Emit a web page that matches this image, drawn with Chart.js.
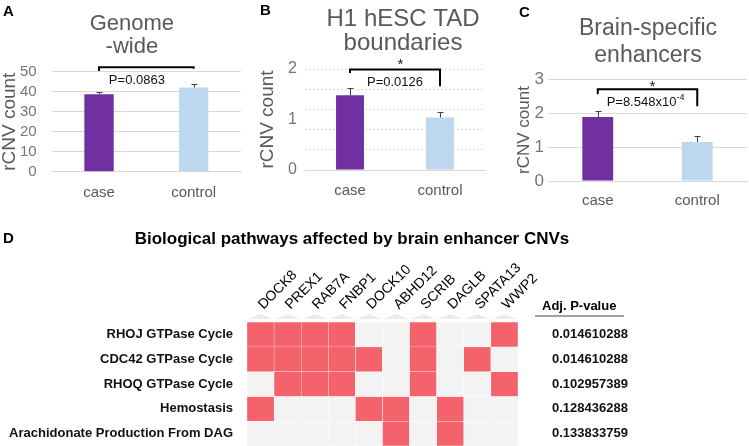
<!DOCTYPE html>
<html>
<head>
<meta charset="utf-8">
<script src="https://cdn.jsdelivr.net/npm/chart.js@4.4.1/dist/chart.umd.min.js"></script>
<style>
  html, body { margin: 0; padding: 0; background: #fff; overflow: hidden; }
  #wrap { position: relative; width: 749px; height: 446px; overflow: hidden; }
  canvas { position: absolute; }
  .lab { position: absolute; font: bold 15px "Liberation Sans", Arial, sans-serif; color: #000; line-height: 1; }
</style>
</head>
<body>
<div id="wrap">
  <canvas id="chartA" width="245" height="205" style="left:0;top:0"></canvas>
  <canvas id="chartB" width="245" height="205" style="left:245px;top:0"></canvas>
  <canvas id="chartC" width="259" height="215" style="left:490px;top:0"></canvas>
  <canvas id="chartD" width="704" height="241" style="left:0;top:205px"></canvas>
  <div class="lab" style="left:3px;top:3px">A</div>
  <div class="lab" style="left:260px;top:2px">B</div>
  <div class="lab" style="left:519px;top:4px">C</div>
  <div class="lab" style="left:3px;top:230px">D</div>
</div>
<script>
const FONT = "'Liberation Sans', Arial, sans-serif";
Chart.defaults.font.family = FONT;

// panels A-C
const groups = ["case", "control"];
const genomeValues = [38.7, 42.1];
const genomeErrors = [1.1, 1.6];
const tadValues = [1.48, 1.04];
const tadErrors = [0.14, 0.11];
const enhancerValues = [1.88, 1.15];
const enhancerErrors = [0.19, 0.16];
const tadTicks = [0, 0.4, 0.8, 1, 1.2, 1.6, 2];

// panel D
const genes = ["DOCK8", "PREX1", "RAB7A", "FNBP1", "DOCK10", "ABHD12", "SCRIB", "DAGLB", "SPATA13", "WWP2"];
const pathways = ["RHOJ GTPase Cycle", "CDC42 GTPase Cycle", "RHOQ GTPase Cycle", "Hemostasis", "Arachidonate Production From DAG"];
const adjP = ["0.014610288", "0.014610288", "0.102957389", "0.128436288", "0.133833759"];
const hits = [
  [1, 1, 1, 1, 0, 0, 1, 0, 0, 1],
  [1, 1, 1, 1, 1, 0, 1, 0, 1, 0],
  [0, 1, 1, 1, 0, 0, 1, 0, 0, 1],
  [1, 0, 0, 0, 1, 1, 0, 1, 0, 0],
  [0, 0, 0, 0, 0, 1, 0, 1, 0, 0]
];

const PURPLE = "#7030A0";
const LIGHTBLUE = "#BDD7EE";

// panel title, error bars, significance bracket and p-value text
const sigPlugin = {
  id: "sig",
  afterDatasetsDraw(chart, args, o) {
    if (!o.errors) return;
    const { ctx, chartArea } = chart;
    const x = chart.scales.x, y = chart.scales.y;
    const vals = chart.data.datasets[0].data;
    const meta = chart.getDatasetMeta(0);
    ctx.save();

    // title, centred a little off the plot centre like the original
    ctx.fillStyle = "#595959";
    ctx.font = o.title.size + "px " + FONT;
    ctx.textAlign = "center";
    ctx.textBaseline = "middle";
    const tx = (chartArea.left + chartArea.right) / 2 + o.title.dx;
    o.title.lines.forEach((line, i) => {
      ctx.fillText(line, tx, o.title.y + i * o.title.step);
    });

    ctx.strokeStyle = "#404040";
    ctx.lineWidth = 1;
    o.errors.forEach((e, i) => {
      const px = Math.round(meta.data[i].x) + 0.5;
      const base = y.getPixelForValue(vals[i]);
      const top = Math.round(y.getPixelForValue(vals[i] + e)) + 0.5;
      ctx.beginPath();
      ctx.moveTo(px, base); ctx.lineTo(px, top);
      ctx.moveTo(px - 3, top); ctx.lineTo(px + 3, top);
      ctx.stroke();
    });

    const b = o.bracket;
    const x0 = x.getPixelForValue(0), x1 = x.getPixelForValue(1);
    const yb = y.getPixelForValue(b.y);
    ctx.strokeStyle = "#000";
    ctx.lineWidth = 2;
    ctx.beginPath();
    ctx.moveTo(x0, y.getPixelForValue(b.left));
    ctx.lineTo(x0, yb);
    ctx.lineTo(x1, yb);
    ctx.lineTo(x1, y.getPixelForValue(b.right));
    ctx.stroke();

    ctx.fillStyle = "#111";
    if (o.star) {
      ctx.font = "15px " + FONT;
      ctx.textAlign = "center";
      ctx.fillText("*", x.getPixelForValue(o.star.x), y.getPixelForValue(o.star.y));
    }
    const t = o.ptext;
    const cx = x.getPixelForValue(t.x), cy = y.getPixelForValue(t.y);
    ctx.font = "13px " + FONT;
    const w1 = ctx.measureText(t.text).width;
    let w2 = 0;
    if (t.sup) {
      ctx.font = "9px " + FONT;
      w2 = ctx.measureText(t.sup).width;
    }
    const start = cx - (w1 + w2) / 2;
    ctx.textAlign = "left";
    ctx.font = "13px " + FONT;
    ctx.fillText(t.text, start, cy);
    if (t.sup) {
      ctx.font = "9px " + FONT;
      ctx.fillText(t.sup, start + w1, cy - 5);
    }
    ctx.restore();
  }
};

function barChart(id, cfg) {
  return new Chart(document.getElementById(id), {
    type: "bar",
    data: {
      labels: groups,
      datasets: [{
        data: cfg.values,
        backgroundColor: [PURPLE, LIGHTBLUE],
        barPercentage: 0.31,
        categoryPercentage: 1
      }]
    },
    options: {
      responsive: false,
      animation: false,
      layout: { padding: { left: 0, right: cfg.padRight, top: cfg.plotTop, bottom: 0 } },
      plugins: {
        legend: { display: false },
        tooltip: { enabled: false },
        sig: { title: cfg.title, errors: cfg.errors, bracket: cfg.bracket, star: cfg.star, ptext: cfg.ptext }
      },
      scales: {
        x: {
          grid: { display: false },
          border: { display: true, color: "#d9d9d9" },
          ticks: { color: "#595959", font: { size: 15 }, padding: cfg.xPad },
          afterFit: s => { s.height = cfg.xHeight; }
        },
        y: {
          min: 0,
          max: cfg.max,
          ticks: Object.assign({ color: "#767676", font: { size: cfg.tickSize }, padding: cfg.yPad, autoSkip: false }, cfg.yTicks || {}),
          afterBuildTicks: cfg.tickList ? (s => { s.ticks = cfg.tickList.map(v => ({ value: v })); }) : undefined,
          grid: {
            drawTicks: false,
            color: cfg.gridColor || "#d9d9d9"
          },
          border: { display: false, dash: cfg.dash || [] },
          title: {
            display: true,
            text: "rCNV count",
            color: "#595959",
            font: { size: cfg.yTitleSize, lineHeight: 1 },
            padding: { top: cfg.yTitlePad, bottom: 0 }
          },
          afterFit: s => { s.width = cfg.yWidth; s.paddingTop = 0; s.paddingBottom = 0; }
        }
      }
    },
    plugins: [sigPlugin]
  });
}

barChart("chartA", {
  values: genomeValues, errors: genomeErrors, max: 50,
  title: { lines: ["Genome", "-wide"], size: 22, dx: -14.5, y: 24.4, step: 22.7 },
  plotTop: 71.7, padRight: 4, yWidth: 51.7, xHeight: 33.3, xPad: 4, yPad: 15, tickSize: 15,
  yTitleSize: 19, yTitlePad: 0,
  yTicks: { stepSize: 10 },
  bracket: { y: 52.2, left: 50.4, right: 51.5 },
  ptext: { x: 0.4, y: 45.8, text: "P=0.0863" }
});

barChart("chartB", {
  values: tadValues, errors: tadErrors, max: 2,
  title: { lines: ["H1 hESC TAD", "boundaries"], size: 24, dx: 8, y: 19.8, step: 23.4 },
  plotTop: 69, padRight: 5, yWidth: 60, xHeight: 35, xPad: 4, yPad: 8, tickSize: 16,
  yTitleSize: 19, yTitlePad: 13,
  tickList: tadTicks,
  yTicks: { callback: v => (Number.isInteger(v) ? v : "") },
  gridColor: c => (c.tick && c.tick.value === 1 ? "rgba(0,0,0,0)" : "#d9d9d9"),
  dash: [2, 2],
  bracket: { y: 1.99, left: 1.92, right: 1.66 },
  star: { x: 0.56, y: 2.08 },
  ptext: { x: 0.5, y: 1.74, text: "P=0.0126" }
});

barChart("chartC", {
  values: enhancerValues, errors: enhancerErrors, max: 3,
  title: { lines: ["Brain-specific", "enhancers"], size: 23, dx: 0.5, y: 28.5, step: 26.7 },
  plotTop: 79, padRight: 2, yWidth: 58, xHeight: 34, xPad: 3, yPad: 4, tickSize: 17,
  yTitleSize: 17, yTitlePad: 25.5,
  yTicks: { stepSize: 1 },
  bracket: { y: 2.70, left: 2.55, right: 2.2 },
  star: { x: 0.55, y: 2.76 },
  ptext: { x: 0.48, y: 2.31, text: "P=8.548x10", sup: "-4" }
});

// heatmap decorations: column tabs and p-value header
const heatPlugin = {
  id: "heatDeco",
  beforeDatasetsDraw(chart) {
    const { ctx, chartArea } = chart;
    const x = chart.scales.x;
    ctx.save();
    ctx.fillStyle = "#ebebeb";
    genes.forEach((g, i) => {
      const px = x.getPixelForTick(i);
      ctx.beginPath();
      ctx.moveTo(px - 12.5, chartArea.top - 3);
      ctx.lineTo(px, chartArea.top - 8);
      ctx.lineTo(px + 12.5, chartArea.top - 3);
      ctx.closePath();
      ctx.fill();
    });
    ctx.restore();
  },
  afterDraw(chart) {
    const { ctx, chartArea } = chart;
    ctx.save();
    ctx.fillStyle = "#000";
    ctx.font = "bold 13px " + FONT;
    ctx.textAlign = "left";
    ctx.textBaseline = "middle";
    ctx.fillText("Adj. P-value", chartArea.right + 24, chartArea.top - 16);
    ctx.strokeStyle = "#444";
    ctx.lineWidth = 1.2;
    ctx.beginPath();
    ctx.moveTo(chartArea.right + 17, chartArea.top - 6);
    ctx.lineTo(chartArea.right + 106, chartArea.top - 6);
    ctx.stroke();
    ctx.restore();
  }
};

new Chart(document.getElementById("chartD"), {
  type: "bar",
  data: {
    labels: genes,
    datasets: pathways.map((p, r) => ({
      label: p,
      data: genes.map(() => [r, r + 1]),
      backgroundColor: hits[r].map(v => (v ? "#F4626B" : "#F3F3F3")),
      borderColor: "#ffffff",
      borderWidth: 0.5,
      borderSkipped: false,
      barPercentage: 1,
      categoryPercentage: 1,
      grouped: false
    }))
  },
  options: {
    responsive: false,
    animation: false,
    layout: { padding: 0 },
    plugins: {
      legend: { display: false },
      tooltip: { enabled: false },
      title: {
        display: true,
        text: "Biological pathways affected by brain enhancer CNVs",
        color: "#000",
        font: { size: 17, weight: "bold", lineHeight: 1.2 },
        padding: { top: 24, bottom: 10 }
      }
    },
    scales: {
      x: {
        position: "top",
        offset: true,
        grid: { display: false },
        border: { display: false },
        ticks: { minRotation: 45, maxRotation: 45, autoSkip: false, padding: 1, labelOffset: 12, color: "#000", font: { size: 14 } },
        afterFit: s => { s.height = 62.6; }
      },
      y: {
        type: "linear",
        min: 0,
        max: pathways.length,
        reverse: true,
        grid: { display: false },
        border: { display: false },
        afterBuildTicks: s => { s.ticks = pathways.map((p, i) => ({ value: i + 0.5 })); },
        ticks: { callback: (v, i) => pathways[i], color: "#111", font: { size: 13, weight: "bold" }, padding: 6, autoSkip: false },
        afterFit: s => { s.width = 247; s.paddingTop = 0; s.paddingBottom = 0; }
      },
      y2: {
        type: "linear",
        position: "right",
        min: 0,
        max: pathways.length,
        reverse: true,
        grid: { display: false },
        border: { display: false },
        afterBuildTicks: s => { s.ticks = adjP.map((p, i) => ({ value: i + 0.5 })); },
        ticks: { callback: (v, i) => adjP[i], color: "#111", font: { size: 13, weight: "bold" }, padding: 26, autoSkip: false },
        afterFit: s => { s.width = 186; s.paddingTop = 0; s.paddingBottom = 0; }
      }
    }
  },
  plugins: [heatPlugin]
});
</script>
</body>
</html>
